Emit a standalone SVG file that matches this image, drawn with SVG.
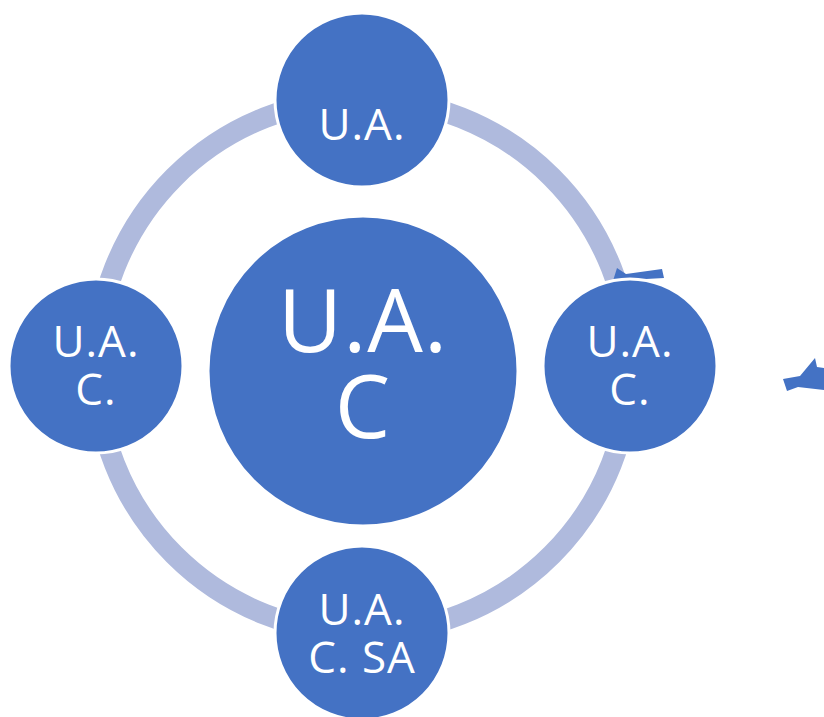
<svg xmlns="http://www.w3.org/2000/svg" width="824" height="717" viewBox="0 0 824 717">
<style>
.node{fill:#4472C4;stroke:#FFFFFF;stroke-width:3}
.t{fill:#FFFFFF;font-family:"Open Sans","Liberation Sans",sans-serif;text-anchor:middle}
.s{font-size:44px;letter-spacing:1px}
.b{font-size:88px;letter-spacing:1px}
</style>
<rect width="824" height="717" fill="#FFFFFF"/>
<g id="connectors">
<circle cx="363" cy="366" r="267" fill="none" stroke="#AFBADD" stroke-width="21"/>
<polygon points="617,268 626,274 662,269 664,278 628,280 612,284" fill="#4472C4"/>
<polygon points="783,379 800,376 815,358 817,367 824,368 824,390 798,387 787,391" fill="#4472C4"/>
</g>
<g id="center">
<circle class="node" cx="363" cy="371" r="155"/>
<text class="t b" x="363" y="352">U.A.</text>
<text class="t b" x="363" y="438">C</text>
</g>
<g id="top">
<circle class="node" cx="362" cy="100" r="87"/>
<text class="t s" x="362" y="140">U.A.</text>
</g>
<g id="left">
<circle class="node" cx="96" cy="366" r="87"/>
<text class="t s" x="96" y="357">U.A.</text>
<text class="t s" x="96" y="405">C.</text>
</g>
<g id="right">
<circle class="node" cx="630" cy="366" r="87"/>
<text class="t s" x="630" y="357">U.A.</text>
<text class="t s" x="630" y="405">C.</text>
</g>
<g id="bottom">
<circle class="node" cx="362" cy="633" r="87"/>
<text class="t s" x="362" y="625">U.A.</text>
<text class="t s" x="362" y="673">C. SA</text>
</g>
</svg>
